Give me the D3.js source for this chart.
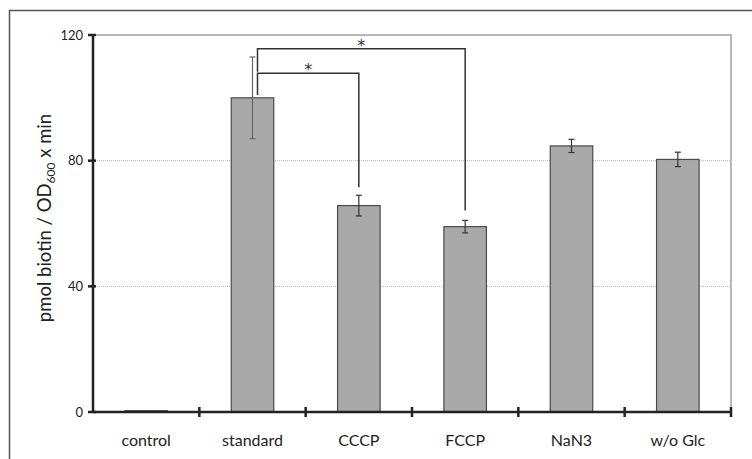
<!DOCTYPE html>
<html>
<head>
<meta charset="utf-8">
<script src="https://cdn.jsdelivr.net/npm/d3@7"></script>
<style>
  body { margin: 0; background: #fff; }
  svg { display: block; }
</style>
</head>
<body>
<svg id="chart"></svg>
<script>
const categories = ["control", "standard", "CCCP", "FCCP", "NaN3", "w/o Glc"];
const values = [0.4, 100, 65.7, 59, 84.7, 80.4];
const errors = [0, 13, 3.3, 2, 2.1, 2.3];
const yTicks = [0, 40, 80, 120];
// significance brackets: from, to, bracket level, left foot, right foot
const brackets = [
  { from: "standard", to: "CCCP", level: 107.8, left: 100.9, right: 71.5, label: "*" },
  { from: "standard", to: "FCCP", level: 115.6, left: 108.3, right: 64.1, label: "*" }
];

const width = 752;
const height = 459;
const margin = { left: 93, right: 21, top: 35, bottom: 47 };

const svg = d3.select("#chart")
    .attr("width", width)
    .attr("height", height);

const x = d3.scaleBand()
    .domain(categories)
    .range([margin.left, width - margin.right])
    .paddingInner(0.6)
    .paddingOuter(0.3);

const y = d3.scaleLinear()
    .domain([0, 120])
    .range([height - margin.bottom, margin.top]);

const step = x.step();
const x0 = margin.left, x1 = width - margin.right;
const center = d => x(d) + x.bandwidth() / 2;

// outer frame
svg.append("path")
    .attr("d", `M9.5,${height}V10.5H${width}`)
    .attr("fill", "none")
    .attr("stroke", "#555")
    .attr("stroke-width", 1.5);

// gridlines
svg.append("g")
    .selectAll("line")
    .data(yTicks.filter(t => t > 0 && t < 120))
    .join("line")
        .attr("x1", x0).attr("x2", x1)
        .attr("y1", d => y(d)).attr("y2", d => y(d))
        .attr("stroke", "#b5b5b5")
        .attr("stroke-width", 1)
        .attr("stroke-dasharray", "1,1");

// plot area top/right border
svg.append("path")
    .attr("d", `M${x0},${y(120)}H${x1}V${y(0)}`)
    .attr("fill", "none")
    .attr("stroke", "#b8b8b8")
    .attr("stroke-width", 2);

// bars
svg.append("g")
    .selectAll("rect")
    .data(categories)
    .join("rect")
        .attr("x", d => x(d))
        .attr("y", (d, i) => y(values[i]))
        .attr("width", x.bandwidth())
        .attr("height", (d, i) => y(0) - y(values[i]))
        .attr("fill", "#a8a9a8")
        .attr("stroke", "#4a4a4a")
        .attr("stroke-width", 1.2);

// error bars
const eg = svg.append("g")
    .attr("stroke-width", 1.2);
categories.forEach((c, i) => {
    if (!errors[i]) return;
    const cx = center(c);
    const col = c === "standard" ? "#666" : "#333";
    const hi = y(values[i] + errors[i]), lo = y(values[i] - errors[i]);
    eg.append("line").attr("x1", cx).attr("x2", cx).attr("y1", hi).attr("y2", lo).attr("stroke", col);
    eg.append("line").attr("x1", cx - 3).attr("x2", cx + 3).attr("y1", hi).attr("y2", hi).attr("stroke", col);
    eg.append("line").attr("x1", cx - 3).attr("x2", cx + 3).attr("y1", lo).attr("y2", lo).attr("stroke", col);
});

// significance brackets
const bg = svg.append("g");
brackets.forEach(b => {
    const xa = center(b.from) + 5, xb = center(b.to);
    bg.append("path")
        .attr("d", `M${xa},${y(b.left)}V${y(b.level)}H${xb}V${y(b.right)}`)
        .attr("fill", "none")
        .attr("stroke", "#333")
        .attr("stroke-width", 1.5);
    bg.append("text")
        .attr("x", (xa + xb) / 2)
        .attr("y", y(b.level) + 2)
        .attr("text-anchor", "middle")
        .attr("font-family", "DejaVu Sans, sans-serif")
        .attr("font-size", 16)
        .attr("fill", "#333")
        .text(b.label);
});

// y axis
const yAxis = svg.append("g");
yAxis.append("line")
    .attr("x1", x0).attr("x2", x0)
    .attr("y1", y(120)).attr("y2", y(0))
    .attr("stroke", "#222").attr("stroke-width", 2.5);
yAxis.selectAll("line.tick")
    .data(yTicks)
    .join("line")
        .attr("class", "tick")
        .attr("x1", x0 - 5).attr("x2", x0 + 3)
        .attr("y1", d => y(d)).attr("y2", d => y(d))
        .attr("stroke", "#222").attr("stroke-width", 2.5);
yAxis.selectAll("text")
    .data(yTicks)
    .join("text")
        .attr("x", x0 - 10)
        .attr("y", d => y(d))
        .attr("dy", "0.35em")
        .attr("text-anchor", "end")
        .attr("font-family", "Lato, sans-serif")
        .attr("font-size", 13)
        .attr("fill", "#222")
        .text(d => d);

// x axis
const xAxis = svg.append("g");
xAxis.append("line")
    .attr("x1", x0).attr("x2", x1)
    .attr("y1", y(0)).attr("y2", y(0))
    .attr("stroke", "#222").attr("stroke-width", 2.5);
xAxis.selectAll("line.tick")
    .data(d3.range(1, categories.length + 1))
    .join("line")
        .attr("class", "tick")
        .attr("x1", d => x0 + d * step).attr("x2", d => x0 + d * step)
        .attr("y1", y(0) - 5).attr("y2", y(0) + 5)
        .attr("stroke", "#222").attr("stroke-width", 2.5);
xAxis.selectAll("text")
    .data(categories)
    .join("text")
        .attr("x", d => center(d))
        .attr("y", y(0) + 34)
        .attr("text-anchor", "middle")
        .attr("font-family", "Lato, sans-serif")
        .attr("font-size", 16)
        .attr("fill", "#222")
        .text(d => d);

// y label
const yl = svg.append("text")
    .attr("transform", "translate(51,218) rotate(-90)")
    .attr("text-anchor", "middle")
    .attr("font-family", "Lato, sans-serif")
    .attr("font-size", 18.5)
    .attr("fill", "#222");
yl.append("tspan").text("pmol biotin / OD");
yl.append("tspan").attr("font-size", 12).attr("dy", 4).text("600");
yl.append("tspan").attr("dy", -4).text(" x min");
</script>
</body>
</html>
